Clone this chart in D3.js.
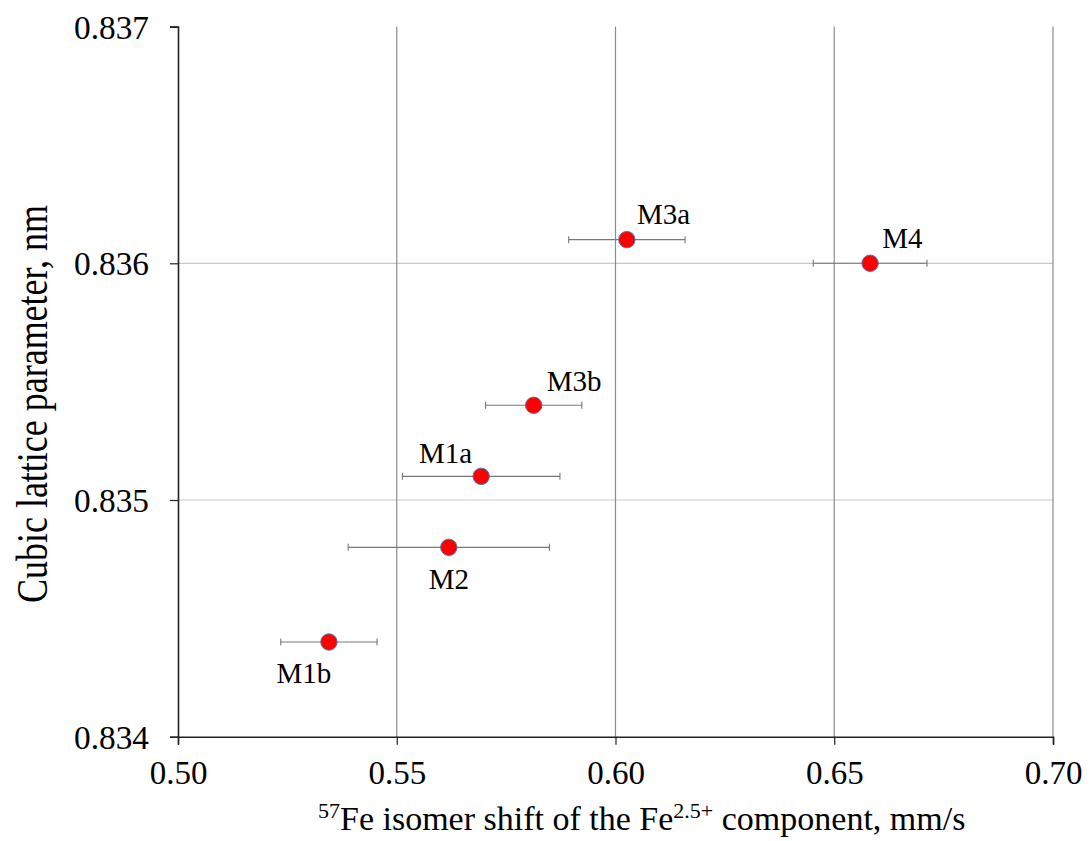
<!DOCTYPE html>
<html><head><meta charset="utf-8">
<script src="https://cdn.jsdelivr.net/npm/d3@7"></script>
<style>body{margin:0;background:#fff;} svg text{font-family:"Times New Roman","Liberation Serif",Tinos,Times,serif !important;}</style>
</head><body><svg id="c" width="1089" height="841"></svg>
<script>
const samples = ["M3a","M4","M3b","M1a","M2","M1b"];
const isomerShift = [0.6026,0.6582,0.5813,0.5693,0.5619,0.5345];
const isomerErr = [0.0133,0.013,0.011,0.018,0.023,0.011];
const latticeParam = [0.8361,0.8360,0.8354,0.8351,0.8348,0.8344];
const xTicks = [0.50,0.55,0.60,0.65,0.70];
const yTicks = [0.834,0.835,0.836,0.837];
// label placement: [dx, dy, anchor]
const labelPos = {M3a:[10,-16,"start"],M4:[12,-15,"start"],M3b:[13,-14,"start"],M1a:[-9,-13,"end"],M2:[0,42,"middle"],M1b:[-25,41,"middle"]};

const svg = d3.select("#c");
const L=178,R=1053,T=26.6,B=736.7;
const x = d3.scaleLinear().domain([0.50,0.70]).range([L,R]);
const y = d3.scaleLinear().domain([0.834,0.837]).range([B,T]);

// gridlines
svg.append("g").selectAll("line").data(yTicks.filter(d=>d>0.834 && d<0.837)).join("line")
  .attr("x1",L).attr("x2",R).attr("y1",d=>y(d)).attr("y2",d=>y(d))
  .attr("stroke","#c8c8c8").attr("stroke-width",1.2);
svg.append("g").selectAll("line").data(xTicks.filter(d=>d>0.50)).join("line")
  .attr("x1",d=>x(d)).attr("x2",d=>x(d)).attr("y1",T).attr("y2",B)
  .attr("stroke","#8c8c8c").attr("stroke-width",1.2);

// axes
const xAxis = svg.append("g").attr("transform",`translate(0,${B})`)
  .call(d3.axisBottom(x).tickValues(xTicks).tickFormat(d3.format(".2f")).tickSize(8).tickPadding(16));
const yAxis = svg.append("g").attr("transform",`translate(${L},0)`)
  .call(d3.axisLeft(y).tickValues(yTicks).tickFormat(d3.format(".3f")).tickSize(8).tickPadding(21));
[xAxis,yAxis].forEach(a=>{
  a.attr("font-family",null);
  a.select(".domain").attr("stroke","#222").attr("stroke-width",1.6);
  a.selectAll(".tick line").attr("stroke","#222").attr("stroke-width",1.2);
  a.selectAll(".tick text").attr("font-size",33).attr("fill","#000");
});
yAxis.selectAll(".tick text").attr("dy","0.35em").attr("textLength",75).attr("lengthAdjust","spacingAndGlyphs");

// error bars
const eb = svg.append("g").attr("stroke","#777").attr("stroke-width",1.1);
samples.forEach((s,i)=>{
  const yy=y(latticeParam[i]), x0=x(isomerShift[i]-isomerErr[i]), x1=x(isomerShift[i]+isomerErr[i]);
  eb.append("line").attr("x1",x0).attr("x2",x1).attr("y1",yy).attr("y2",yy);
  eb.append("line").attr("x1",x0).attr("x2",x0).attr("y1",yy-3.5).attr("y2",yy+3.5);
  eb.append("line").attr("x1",x1).attr("x2",x1).attr("y1",yy-3.5).attr("y2",yy+3.5);
});

// points
svg.append("g").selectAll("circle").data(samples).join("circle")
  .attr("cx",(d,i)=>x(isomerShift[i])).attr("cy",(d,i)=>y(latticeParam[i])).attr("r",8.2)
  .attr("fill","#ff0000").attr("stroke","#5a6fa8").attr("stroke-width",1);

// labels
svg.append("g").selectAll("text").data(samples).join("text")
  .attr("x",(d,i)=>x(isomerShift[i])+labelPos[d][0])
  .attr("y",(d,i)=>y(latticeParam[i])+labelPos[d][1])
  .attr("text-anchor",d=>labelPos[d][2])
  .attr("font-size",29).attr("fill","#000").text(d=>d);

// axis titles
const xt = svg.append("text").attr("x",318).attr("y",830).attr("text-anchor","start")
  .attr("font-size",34).attr("fill","#000");
xt.append("tspan").attr("font-size",22).attr("dy","-12").text("57");
xt.append("tspan").attr("dy","12").text("Fe isomer shift of the Fe");
xt.append("tspan").attr("font-size",22).attr("dy","-12").text("2.5+");
xt.append("tspan").attr("dy","12").text(" component, mm/s");

svg.append("text").attr("transform",`translate(47,404) rotate(-90)`)
  .attr("text-anchor","middle").attr("font-size",44).attr("fill","#000")
  .attr("textLength",398).attr("lengthAdjust","spacingAndGlyphs")
  .text("Cubic lattice parameter, nm");
</script></body></html>
